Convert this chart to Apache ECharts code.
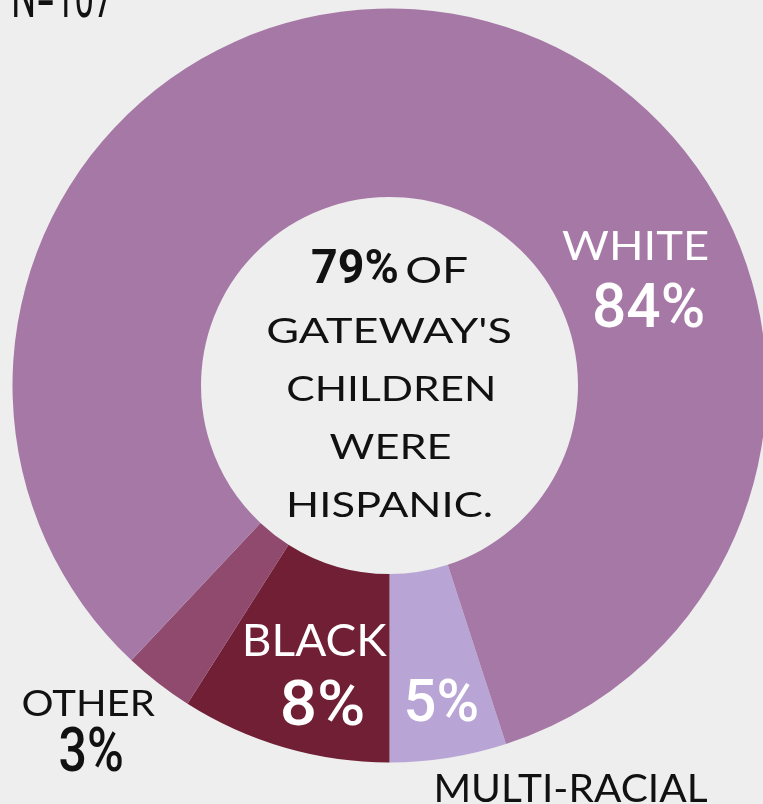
<!DOCTYPE html>
<html><head><meta charset="utf-8">
<script src="https://cdn.jsdelivr.net/npm/echarts@6/dist/echarts.min.js"></script>
<style>html,body{margin:0;padding:0;background:#eeeeee;}#chart{width:763px;height:804px;}</style>
</head><body><div id="chart"></div>
<script>
// ---- data ----
const categories = ['MULTI-RACIAL', 'BLACK', 'OTHER', 'WHITE'];
const values = [5, 9, 3, 83];
const pctLabels = ['5%', '8%', '3%', '84%'];
const sampleNote = 'N=107';
const centerLines = ['79%', 'OF', "GATEWAY'S", 'CHILDREN', 'WERE', 'HISPANIC.'];

// ---- styles / layout ----
const sliceColors = ['#b8a5d5', '#711f35', '#8f4a6e', '#a678a6'];
const NAME_FONT = 'Lato', NUM_FONT = 'Roboto';
// [centerX, centerY, inkWidth, inkHeight]
const nameBoxes = [[572, 787.5, 270, 29], [316.5, 640, 141, 33], [89, 702, 132, 28], [635, 246, 145, 29]];
const nameColors = ['#111', '#fff', '#111', '#fff'];
const pctBoxes = [[442, 700, 70, 44], [323, 702.5, 80, 47], [91, 749.5, 62, 45], [649, 305.5, 108, 45]];
const pctColors = ['#fff', '#fff', '#111', '#fff'];
const pctWeights = [500, 500, 500, 500];
const noteBox = [63, -4.5, 98, 45];
const centerBoxes = [[354.5, 265.5, 85, 35], [437, 269, 60, 28], [389, 330, 242, 26], [390.5, 388, 205, 26], [390, 446, 120, 26], [390.5, 504, 201, 26]];

const ctx = document.createElement('canvas').getContext('2d');
function fitText(text, box, family, weight, color) {
  const [cx, cy, w, h] = box;
  ctx.font = weight + ' 100px ' + family;
  ctx.textAlign = 'center';
  ctx.textBaseline = 'middle';
  const m = ctx.measureText(text);
  const inkW = m.actualBoundingBoxLeft + m.actualBoundingBoxRight;
  const inkH = m.actualBoundingBoxAscent + m.actualBoundingBoxDescent;
  const size = 100 * h / inkH;
  const k = size / 100;
  const sx = w / (inkW * k);
  const offX = (m.actualBoundingBoxRight - m.actualBoundingBoxLeft) / 2 * k * sx;
  const offY = (m.actualBoundingBoxDescent - m.actualBoundingBoxAscent) / 2 * k;
  return {
    type: 'text', z: 100, silent: true,
    x: cx - offX, y: cy - offY, scaleX: sx,
    style: { text: text, font: weight + ' ' + size.toFixed(2) + 'px ' + family, fill: color, align: 'center', verticalAlign: 'middle' }
  };
}

const elements = [];
categories.forEach((c, i) => {
  elements.push(fitText(c, nameBoxes[i], NAME_FONT, 400, nameColors[i]));
  elements.push(fitText(pctLabels[i], pctBoxes[i], NUM_FONT, pctWeights[i], pctColors[i]));
});
elements.push(fitText(sampleNote, noteBox, NUM_FONT, 400, '#111'));
centerLines.forEach((t, i) => {
  if (i === 0) elements.push(fitText(t, centerBoxes[i], NUM_FONT, 700, '#111'));
  else elements.push(fitText(t, centerBoxes[i], NAME_FONT, 400, '#111'));
});

const chart = echarts.init(document.getElementById('chart'), null, { renderer: 'canvas' });
chart.setOption({
  backgroundColor: '#eeeeee',
  animation: false,
  series: [{
    type: 'pie',
    center: [389.5, 385.5],
    radius: [188.5, 377],
    startAngle: -72,
    clockwise: true,
    silent: true,
    label: { show: false },
    labelLine: { show: false },
    itemStyle: { borderWidth: 0 },
    data: categories.map((c, i) => ({ name: c, value: values[i], itemStyle: { color: sliceColors[i] } }))
  }],
  graphic: { elements: elements }
});
</script></body></html>
